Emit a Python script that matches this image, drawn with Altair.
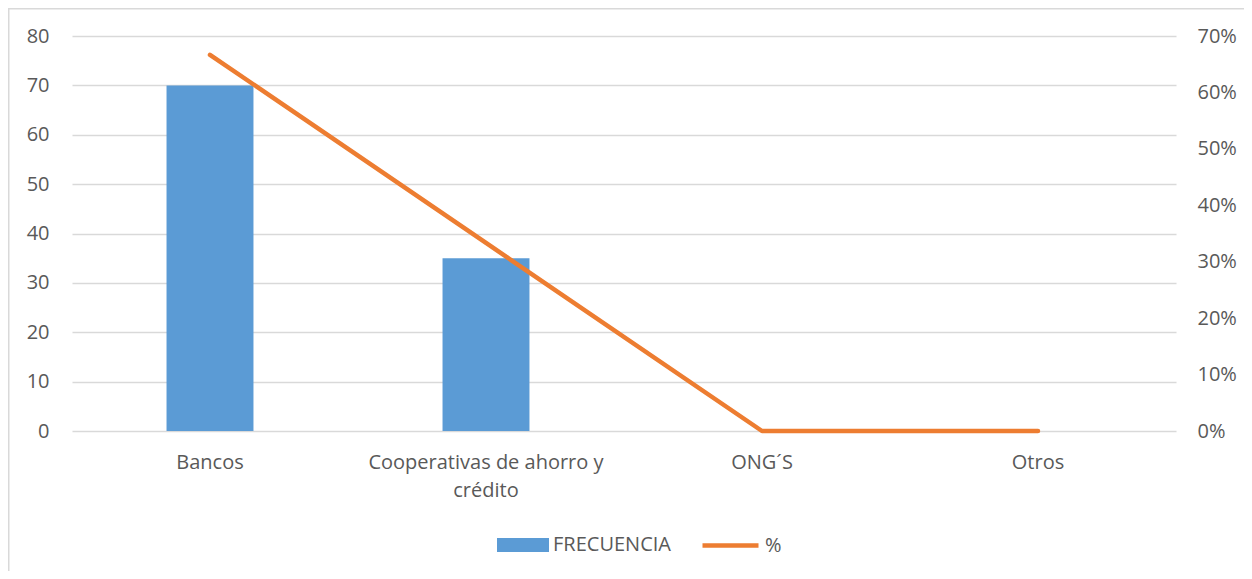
import altair as alt
import pandas as pd

categories = ["Bancos", "Cooperativas de ahorro y crédito", "ONG´S", "Otros"]
frecuencia = [70, 35, 0, 0]
porcentaje = [0.6667, 0.3333, 0.0, 0.0]

df = pd.DataFrame({"cat": categories, "frec": frecuencia, "pct": porcentaje,
                   "s1": ["FRECUENCIA"] * 4, "s2": ["%"] * 4})

FONT = "Open Sans"
GREY = "#595959"
GRID = "#d9d9d9"
BLUE = "#5b9bd5"
ORANGE = "#ed7d31"

x = alt.X("cat:N", sort=categories, title=None,
          scale=alt.Scale(paddingInner=0, paddingOuter=0),
          axis=alt.Axis(labelAngle=0, domain=False, ticks=False, labelPadding=21,
                        labelFont=FONT, labelFontSize=20, labelColor=GREY,
                        labelLineHeight=28, labelLimit=400,
                        labelExpr="datum.label == 'Cooperativas de ahorro y crédito' ? ['Cooperativas de ahorro y', 'crédito'] : datum.label"))

frame = alt.Chart(alt.Data(values=[{"a": 1}])).mark_rect(
    fill=None, stroke=GRID, strokeWidth=1.5
).encode(x=alt.value(-63.25), x2=alt.value(1400), y=alt.value(-27.25), y2=alt.value(700))

bars = alt.Chart(df).mark_bar(width=alt.RelativeBandSize(0.315), color=BLUE).encode(
    x=x,
    y=alt.Y("frec:Q", title=None,
            scale=alt.Scale(domain=[0, 80], nice=False),
            axis=alt.Axis(values=list(range(0, 81, 10)), grid=True, gridColor=GRID,
                          gridWidth=1.3, domain=False, ticks=False, labelPadding=23,
                          labelFont=FONT, labelFontSize=20, labelColor=GREY)),
    color=alt.Color("s1:N", scale=alt.Scale(domain=["FRECUENCIA"], range=[BLUE]),
                    legend=alt.Legend(title=None, orient="none", legendX=425, legendY=483,
                                      symbolType="M-1,-0.27H1V0.27H-1Z", symbolSize=2704,
                                      symbolStrokeWidth=0, padding=0, labelOffset=4,
                                      labelFont=FONT, labelFontSize=20, labelColor=GREY)),
)

line = alt.Chart(df).mark_line(color=ORANGE, strokeWidth=4.5, strokeCap="round",
                               strokeJoin="round").encode(
    x=x,
    y=alt.Y("pct:Q", title=None,
            scale=alt.Scale(domain=[0, 0.7], nice=False),
            axis=alt.Axis(orient="right", values=[0, 0.1, 0.2, 0.3, 0.4, 0.5, 0.6, 0.7],
                          format=".0%", grid=False, domain=False, ticks=False,
                          labelPadding=21, labelFont=FONT, labelFontSize=20,
                          labelColor=GREY)),
    stroke=alt.Stroke("s2:N", scale=alt.Scale(domain=["%"], range=[ORANGE]),
                      legend=alt.Legend(title=None, orient="none", legendX=628, legendY=479,
                                        symbolType="stroke", symbolSize=3136,
                                        symbolStrokeWidth=4.5, padding=0, labelOffset=4,
                                        labelFont=FONT, labelFontSize=20, labelColor=GREY)),
)

chart = alt.layer(frame, bars, line).resolve_scale(
    y="independent", color="independent", stroke="independent"
).properties(
    width=1104, height=395,
    autosize=alt.AutoSizeParams(type="none"),
    padding={"left": 64, "top": 28, "right": 68, "bottom": 140},
    background="white",
).configure_view(stroke=None)

chart.save("out.html", embed_options={"renderer": "svg", "actions": False})
